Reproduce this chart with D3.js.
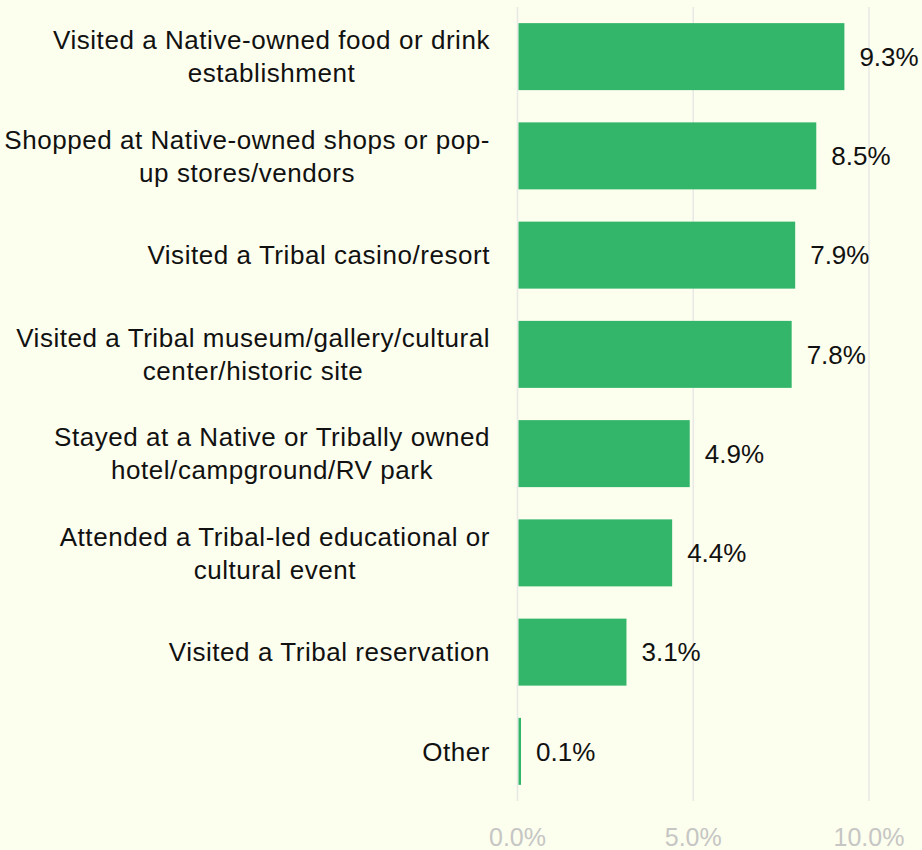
<!DOCTYPE html>
<html><head><meta charset="utf-8">
<script src="https://cdn.jsdelivr.net/npm/d3@7"></script>
<style>
html,body{margin:0;padding:0;background:#fcfeee;}
svg{display:block;font-family:"Liberation Sans",Arial,sans-serif;}
</style></head>
<body><svg id="chart" width="922" height="850"></svg>
<script>
const categories = [
  ["Visited a Native-owned food or drink","establishment"],
  ["Shopped at Native-owned shops or pop-","up stores/vendors"],
  ["Visited a Tribal casino/resort"],
  ["Visited a Tribal museum/gallery/cultural","center/historic site"],
  ["Stayed at a Native or Tribally owned","hotel/campground/RV park"],
  ["Attended a Tribal-led educational or","cultural event"],
  ["Visited a Tribal reservation"],
  ["Other"]
];
const values = [9.3, 8.5, 7.9, 7.8, 4.9, 4.4, 3.1, 0.1];
const ticks = [0, 5, 10];

const FS = 26;
const LS = 0.55;
const svg = d3.select("#chart");
const x = d3.scaleLinear().domain([0, 10]).range([517.5, 869]);
const y = d3.scaleBand().domain(d3.range(values.length)).range([7, 801])
  .paddingInner(0.325).paddingOuter(0.1625);

// gridlines
svg.append("g").selectAll("line").data(ticks).join("line")
  .attr("x1", d => x(d)).attr("x2", d => x(d))
  .attr("y1", 7).attr("y2", 801)
  .attr("stroke", "#e8e8e6").attr("stroke-width", 1.5);

// axis labels
svg.append("g").selectAll("text").data(ticks).join("text")
  .attr("x", d => x(d)).attr("y", 846)
  .attr("text-anchor", "middle")
  .attr("font-size", 25).attr("fill", "#c6c6c4")
  .text(d => d.toFixed(1) + "%");

// bars
svg.append("g").selectAll("rect").data(values).join("rect")
  .attr("x", x(0) + 1)
  .attr("y", (d, i) => y(i))
  .attr("width", d => Math.max(x(d) - x(0) - 1, 2))
  .attr("height", y.bandwidth())
  .attr("fill", "#33b66a");

// value labels
svg.append("g").selectAll("text").data(values).join("text")
  .attr("x", d => Math.max(x(d), x(0) + 3) + 15)
  .attr("y", (d, i) => y(i) + y.bandwidth() / 2)
  .attr("dy", "0.36em")
  .attr("font-size", FS).attr("fill", "#111")
  .text(d => d.toFixed(1) + "%");

// category labels: block right-aligned at 490, lines centered within block
const lh = 33;
const g = svg.append("g");
categories.forEach((lines, i) => {
  const cy = y(i) + y.bandwidth() / 2;
  const widths = lines.map(l => {
    const s = svg.append("text").attr("font-size", FS).attr("letter-spacing", LS).text(l);
    const w = s.node().getComputedTextLength(); s.remove(); return w;
  });
  const maxW = d3.max(widths);
  const center = 490 - maxW / 2;
  lines.forEach((l, k) => {
    g.append("text").attr("font-size", FS).attr("fill", "#111")
      .attr("letter-spacing", LS)
      .attr("x", center).attr("text-anchor", "middle")
      .attr("y", cy + (k - (lines.length - 1) / 2) * lh)
      .attr("dy", "0.36em").text(l);
  });
});
</script></body></html>
